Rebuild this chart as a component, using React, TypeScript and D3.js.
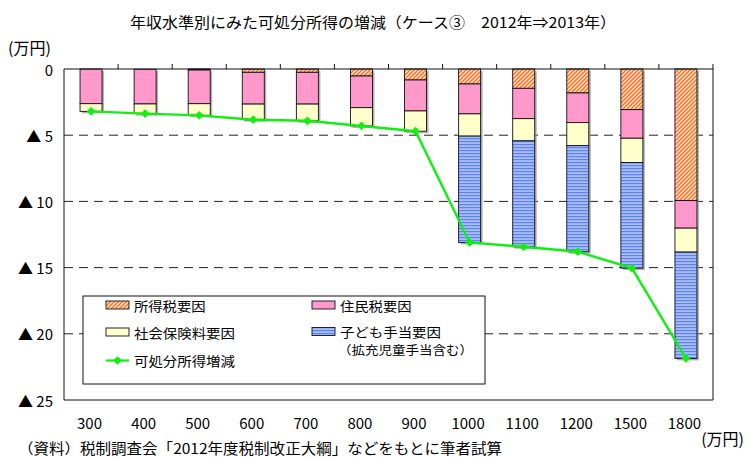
import React from 'react';
import * as d3 from 'd3';

// Income levels (万円)
const categories = ['300', '400', '500', '600', '700', '800', '900', '1000', '1100', '1200', '1500', '1800'];

// Components of the change in disposable income (万円, decreases are negative)
const incomeTaxFactor = [0, -0.02, -0.08, -0.25, -0.25, -0.53, -0.83, -1.13, -1.46, -1.81, -3.07, -9.94];
const residentTaxFactor = [-2.62, -2.62, -2.54, -2.4, -2.4, -2.39, -2.34, -2.26, -2.29, -2.24, -2.16, -2.08];
const socialInsuranceFactor = [-0.58, -0.73, -0.88, -1.18, -1.26, -1.38, -1.53, -1.68, -1.68, -1.74, -1.84, -1.81];
const childAllowanceFactor = [0, 0, 0, 0, 0, 0, 0, -8.03, -8.0, -8.01, -7.97, -8.03];

// Net change in disposable income (万円)
const disposableIncomeChange = [-3.2, -3.37, -3.5, -3.83, -3.91, -4.3, -4.7, -13.1, -13.43, -13.8, -15.04, -21.86];

const yTicks = [0, -5, -10, -15, -20, -25];
const gridTicks = [-5, -10, -15, -20];

const seriesKeys = ['incomeTax', 'residentTax', 'socialInsurance', 'childAllowance'];
const seriesLabels: Record<string, string> = {
  incomeTax: '所得税要因',
  residentTax: '住民税要因',
  socialInsurance: '社会保険料要因',
  childAllowance: '子ども手当要因',
};
const seriesFills: Record<string, string> = {
  incomeTax: 'url(#hatchOrange)',
  residentTax: '#FF99CC',
  socialInsurance: '#FFFFCC',
  childAllowance: 'url(#stripeBlue)',
};

const titleText = '年収水準別にみた可処分所得の増減（ケース③　2012年⇒2013年）';
const unitText = '(万円)';
const sourceText = '（資料）税制調査会「2012年度税制改正大綱」などをもとに筆者試算';
const lineLabel = '可処分所得増減';
const childNote = '（拡充児童手当含む）';

const W = 750;
const H = 458;
const plot = { left: 64, right: 713, top: 69, bottom: 400 };
const FONT = '"Noto Sans CJK JP", "Noto Sans", sans-serif';

export default function App() {
  const x = d3.scaleBand<string>().domain(categories).range([plot.left, plot.right]);
  const y = d3.scaleLinear().domain([0, -25]).range([plot.top, plot.bottom]);
  const barW = 22;
  const cx = (c: string) => (x(c) ?? 0) + x.bandwidth() / 2;

  const table = categories.map((c, i) => ({
    cat: c,
    incomeTax: incomeTaxFactor[i],
    residentTax: residentTaxFactor[i],
    socialInsurance: socialInsuranceFactor[i],
    childAllowance: childAllowanceFactor[i],
  }));

  const stacked = d3
    .stack<any>()
    .keys(seriesKeys)
    .offset(d3.stackOffsetDiverging)(table);

  const totals = table.map(
    (r) => r.incomeTax + r.residentTax + r.socialInsurance + r.childAllowance
  );

  const line = d3
    .line<number>()
    .x((_, i) => cx(categories[i]))
    .y((v) => y(v));

  const diamond = d3.symbol().type(d3.symbolSquare).size(38)();

  const tickFmt = (v: number) => (v === 0 ? '0' : `▲ ${-v}`);

  // boundaries between categories for the tick marks on the zero axis
  const boundaries = categories.slice(1).map((c) => x(c) ?? 0).concat([plot.right]);

  const legend = { x: 83, y: 296, w: 402, h: 88 };

  return (
    <svg width={W} height={H} style={{ position: 'absolute', left: 0, top: 0, background: '#fff' }} fontFamily={FONT}>
      <defs>
        <pattern id="hatchOrange" patternUnits="userSpaceOnUse" width={4} height={4}>
          <rect width={4} height={4} fill="#FFE6D2" />
          <path d="M-1,1 l2,-2 M0,4 l4,-4 M3,5 l2,-2" stroke="#F07322" strokeWidth={1.4} />
        </pattern>
        <pattern id="stripeBlue" patternUnits="userSpaceOnUse" width={4} height={3}>
          <rect width={4} height={3} fill="#A9BEFF" />
          <rect width={4} height={1.2} fill="#5F82F2" />
        </pattern>
      </defs>

      {/* title */}
      <text x={373} y={21} textAnchor="middle" dominantBaseline="central" fontSize={15} textLength={486} lengthAdjust="spacingAndGlyphs">
        {titleText}
      </text>
      <text x={8} y={47} dominantBaseline="central" fontSize={16}>
        {unitText}
      </text>

      {/* grid lines */}
      {gridTicks.map((t) => (
        <line key={t} x1={plot.left} x2={plot.right} y1={y(t)} y2={y(t)} stroke="#222" strokeWidth={1} strokeDasharray="9,6" />
      ))}

      {/* plot border */}
      <path
        d={`M${plot.left},${plot.top}V${plot.bottom}H${plot.right}V${plot.top}`}
        fill="none"
        stroke="#111"
        strokeWidth={1}
      />

      {/* y tick labels */}
      {yTicks.map((t) => (
        <text key={t} x={53} y={y(t)} textAnchor="end" dominantBaseline="central" fontSize={15}>
          {tickFmt(t)}
        </text>
      ))}

      {/* bar shadows */}
      {categories.map((c, i) => (
        <rect key={c} x={cx(c) - barW / 2 + 2} y={y(0) + 2} width={barW} height={y(totals[i]) - y(0)} fill="#9a9a9a" opacity={0.75} />
      ))}

      {/* stacked bars */}
      {stacked.map((s) => (
        <g key={s.key}>
          {s.map((d, i) => {
            const y0 = y(d[1]);
            const y1 = y(d[0]);
            if (Math.abs(y1 - y0) < 0.3) return null;
            return (
              <rect
                key={i}
                x={cx(categories[i]) - barW / 2}
                y={Math.min(y0, y1)}
                width={barW}
                height={Math.abs(y1 - y0)}
                fill={seriesFills[s.key]}
                stroke="#111"
                strokeWidth={0.9}
              />
            );
          })}
        </g>
      ))}

      {/* zero axis with upward ticks */}
      <line x1={plot.left} x2={plot.right} y1={plot.top} y2={plot.top} stroke="#111" strokeWidth={1.2} />
      {boundaries.map((bx, i) => (
        <line key={i} x1={bx} x2={bx} y1={plot.top - 5} y2={plot.top} stroke="#111" strokeWidth={1} />
      ))}

      {/* net change line */}
      <path d={line(disposableIncomeChange) ?? ''} fill="none" stroke="#11EE11" strokeWidth={2.4} />
      {disposableIncomeChange.map((v, i) => (
        <path key={i} d={diamond ?? ''} transform={`translate(${cx(categories[i])},${y(v)}) rotate(45)`} fill="#11EE11" />
      ))}

      {/* x labels */}
      {categories.map((c) => (
        <text key={c} x={cx(c) - 1.5} y={422} textAnchor="middle" dominantBaseline="central" fontSize={15}>
          {c}
        </text>
      ))}
      <text x={744} y={438} textAnchor="end" dominantBaseline="central" fontSize={16}>
        {unitText}
      </text>

      {/* source note */}
      <text x={18} y={447} dominantBaseline="central" fontSize={14.5} textLength={484} lengthAdjust="spacingAndGlyphs">
        {sourceText}
      </text>

      {/* legend */}
      <g>
        <rect x={legend.x} y={legend.y} width={legend.w} height={legend.h} fill="#fff" stroke="#111" strokeWidth={1} />
        {[
          { key: 'incomeTax', sx: 106, ty: 305 },
          { key: 'residentTax', sx: 312, ty: 305 },
          { key: 'socialInsurance', sx: 106, ty: 332 },
          { key: 'childAllowance', sx: 312, ty: 331.5 },
        ].map((e) => (
          <g key={e.key}>
            <rect x={e.sx} y={e.ty - 4} width={23} height={8} fill={seriesFills[e.key]} stroke="#111" strokeWidth={0.9} />
            <text
              x={e.sx + 28}
              y={e.ty}
              dominantBaseline="central"
              fontSize={13}
              textLength={seriesLabels[e.key].length * 14.7 - 2}
              lengthAdjust="spacingAndGlyphs"
            >
              {seriesLabels[e.key]}
            </text>
          </g>
        ))}
        <text x={338} y={349} dominantBaseline="central" fontSize={12} textLength={135} lengthAdjust="spacingAndGlyphs">
          {childNote}
        </text>
        <line x1={106} x2={129} y1={360.5} y2={360.5} stroke="#11EE11" strokeWidth={2.2} />
        <path d={diamond ?? ''} transform="translate(117.5,360.5) rotate(45)" fill="#11EE11" />
        <text x={134} y={360.5} dominantBaseline="central" fontSize={13} textLength={lineLabel.length * 14.7 - 2} lengthAdjust="spacingAndGlyphs">
          {lineLabel}
        </text>
      </g>
    </svg>
  );
}
